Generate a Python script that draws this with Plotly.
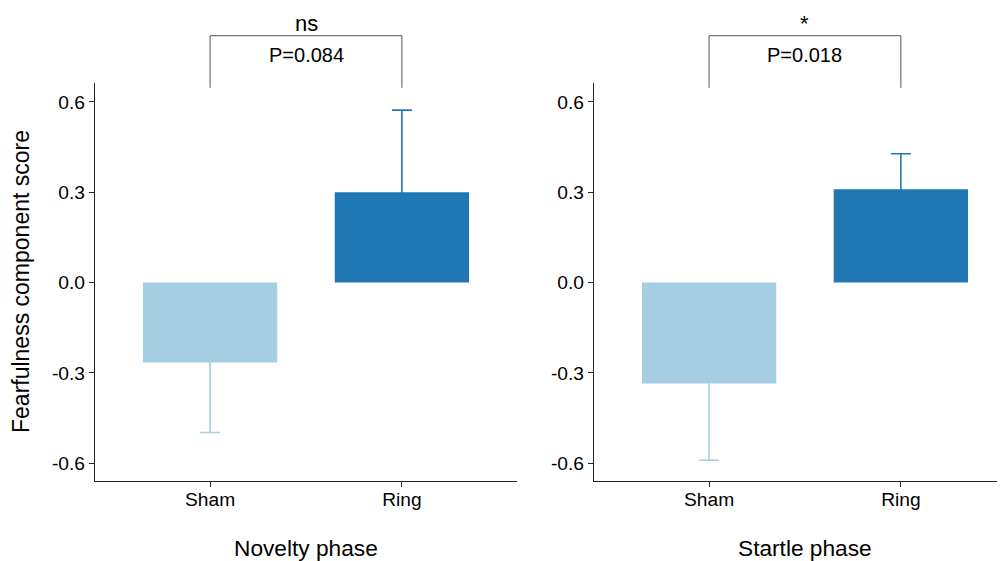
import plotly.graph_objects as go

# ---- data ----
groups = ["Sham", "Ring"]
phases = ["Novelty phase", "Startle phase"]
novelty_means = [-0.265, 0.300]
novelty_err = [0.233, 0.273]
startle_means = [-0.335, 0.310]
startle_err = [0.255, 0.118]
p_labels = ["P=0.084", "P=0.018"]
sig_labels = ["ns", "*"]
bar_colors = ["#a6cee3", "#1f78b4"]
y_ticks = [-0.6, -0.3, 0.0, 0.3, 0.6]
y_tick_text = ["-0.6", "-0.3", "0.0", "0.3", "0.6"]

# ---- layout params ----
OFF = 8  # page body margin
W, H = 1005 - OFF, 561 - OFF
FONT = "Liberation Sans, Arial, sans-serif"
YR = [-0.659, 0.663]
XR_LEFT = [0.4, 2.6]
XR_RIGHT = [0.4, 2.543]
bracket_top, bracket_leg, p_y, sig_y = 0.82, 0.647, 0.756, 0.862
CAP_HIDE = 0.008  # pushes the unused (bar-side) error cap inside the bar


def px_x(p):
    return (p - OFF) / W


def px_y(p):
    return (H - (p - OFF)) / H


fig = go.Figure()

series = [novelty_means, startle_means]
errors = [novelty_err, startle_err]
xaxes = ["x", "x2"]
for pi in range(2):
    for gi, g in enumerate(groups):
        m = series[pi][gi]
        e = errors[pi][gi]
        fig.add_trace(go.Bar(
            x=[gi + 1], y=[m], width=0.7,
            marker=dict(color=bar_colors[gi], line=dict(width=0)),
            error_y=dict(type="data", symmetric=False,
                         array=[e if m > 0 else CAP_HIDE],
                         arrayminus=[e if m < 0 else CAP_HIDE],
                         color=bar_colors[gi], thickness=1.6, width=10),
            xaxis=xaxes[pi], yaxis="y" if pi == 0 else "y2",
            showlegend=False,
        ))


def ydom(v):
    return (v - YR[0]) / (YR[1] - YR[0])


def xdom(v, xr):
    return (v - xr[0]) / (xr[1] - xr[0])


shapes = []
annotations = []
for pi, xr in enumerate([XR_LEFT, XR_RIGHT]):
    xa = "x" if pi == 0 else "x2"
    ya = "y" if pi == 0 else "y2"
    x1d, x2d = xdom(1, xr), xdom(2, xr)
    pts = [(x1d, ydom(bracket_leg)), (x1d, ydom(bracket_top)),
           (x2d, ydom(bracket_top)), (x2d, ydom(bracket_leg))]
    path = "M " + " L ".join(f"{a},{b}" for a, b in pts)
    shapes.append(dict(type="path", path=path, xref=f"{xa} domain", yref=f"{ya} domain",
                       line=dict(color="#555555", width=1)))
    annotations.append(dict(x=1.5, y=ydom(p_y), xref=xa, yref=f"{ya} domain",
                            xanchor="center", yanchor="middle",
                            text=p_labels[pi], showarrow=False,
                            font=dict(family=FONT, size=20, color="#000000")))
    annotations.append(dict(x=1.5, y=ydom(sig_y), xref=xa, yref=f"{ya} domain",
                            xanchor="center", yanchor="middle",
                            text=sig_labels[pi], showarrow=False,
                            font=dict(family=FONT, size=22, color="#000000")))
    annotations.append(dict(x=1.5, y=px_y(548), xref=xa, yref="paper",
                            xanchor="center", yanchor="middle",
                            text=phases[pi], showarrow=False,
                            font=dict(family=FONT, size=22.7, color="#000000")))

annotations.append(dict(x=px_x(21), y=px_y(282), xref="paper", yref="paper",
                        xanchor="center", yanchor="middle",
                        text="Fearfulness component score", textangle=-90, showarrow=False,
                        font=dict(family=FONT, size=23, color="#000000")))

axis_common = dict(showline=True, linecolor="#222222", linewidth=1.3, ticks="outside",
                   ticklen=5, tickwidth=1.2, tickcolor="#222222", showgrid=False, zeroline=False,
                   tickfont=dict(family=FONT, size=19.2, color="#000000"))

ydomain = [px_y(481), px_y(83)]
fig.update_layout(
    width=W, height=H, margin=dict(l=0, r=0, t=0, b=0),
    plot_bgcolor="white", paper_bgcolor="white",
    shapes=shapes, annotations=annotations,
    xaxis=dict(domain=[px_x(95), px_x(517)], range=XR_LEFT, tickvals=[1, 2], ticktext=groups,
               anchor="y", ticklabelstandoff=-4, **axis_common),
    xaxis2=dict(domain=[px_x(594), 1.0], range=XR_RIGHT, tickvals=[1, 2], ticktext=groups,
                anchor="y2", ticklabelstandoff=-4, **axis_common),
    yaxis=dict(domain=ydomain, range=YR, tickvals=y_ticks, ticktext=y_tick_text,
               anchor="x", **axis_common),
    yaxis2=dict(domain=ydomain, range=YR, tickvals=y_ticks, ticktext=y_tick_text,
                anchor="x2", **axis_common),
)

fig.write_html("out.html")
